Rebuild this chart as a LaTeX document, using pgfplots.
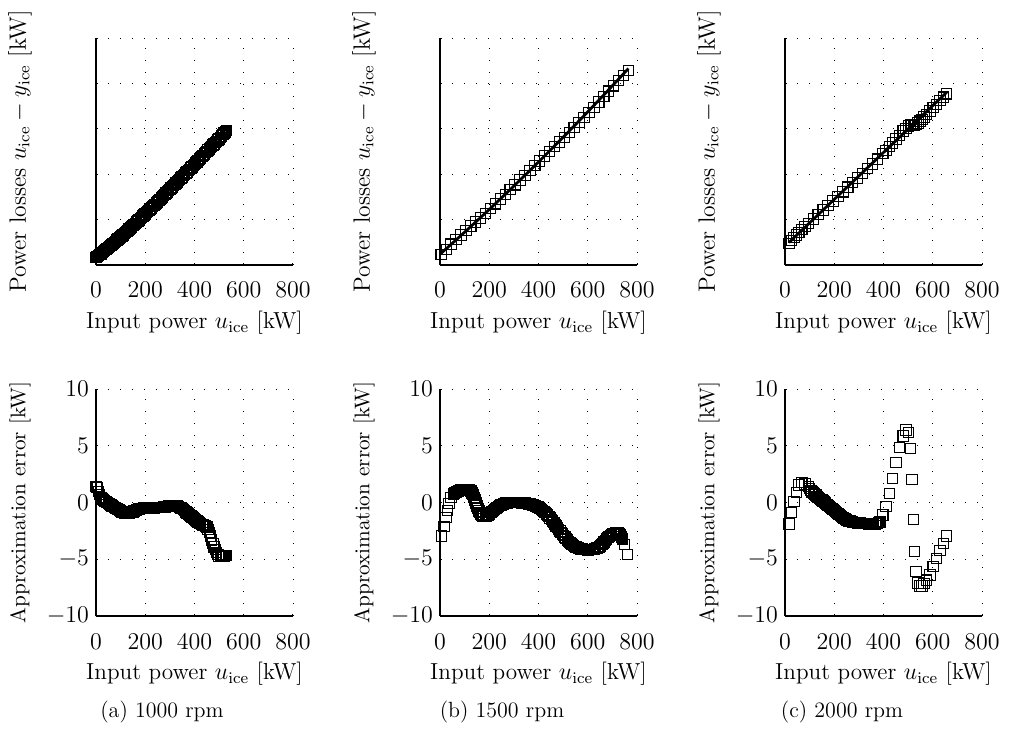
\documentclass[border=0pt]{standalone}
\usepackage{pgfplots}
\pgfplotsset{compat=1.18}

\pgfplotsset{
  panel/.style={
    scale only axis, width=98.5pt, height=113.5pt,
    axis x line*=bottom, axis y line*=left,
    tick align=inside, major tick length=1.2pt,
    xmin=0, xmax=800, xtick={0,200,400,600,800},
    grid=major,
    major grid style={black, line width=0.45pt, dash pattern=on 0.5pt off 5.5pt},
    axis line style={line width=0.6pt},
    tick style={black, line width=0.5pt},
    clip=false,
    ticklabel style={font=\fontsize{12.7}{14}\selectfont},
    xticklabel style={anchor=base, yshift=-16.5pt},
    xlabel={Input power $u_{\mathrm{ice}}$ [kW]},
    xlabel style={at={(axis description cs:0.5,-0.28)}, anchor=base,
                  font=\fontsize{11.6}{14}\selectfont},
    ylabel style={at={(axis description cs:-0.386,0.5)}, anchor=center},
  },
  toprow/.style={panel, ymin=0, ymax=500, ytick={0,100,200,300,400,500}, yticklabels={},
    ylabel={Power losses $u_{\mathrm{ice}}-y_{\mathrm{ice}}$ [kW]},
    ylabel style={font=\fontsize{11.8}{14}\selectfont}},
  botrow/.style={panel, ymin=-10, ymax=10, ytick={-10,-5,0,5,10},
    ylabel={Approximation error [kW]},
    ylabel style={font=\fontsize{10.6}{13}\selectfont}},
  sq/.style={only marks, mark=square, mark size=2.6pt, mark options={black, line width=0.55pt}},
  fit/.style={black, line width=1.4pt, smooth},
}

\begin{document}
\begin{tikzpicture}
\useasboundingbox (0,0) rectangle (506.5pt,364.5pt);

% ---- 1000 rpm ----
\begin{axis}[toprow, at={(48pt,232pt)}, anchor=south west]
\addplot[sq] coordinates {
(0,16.4)(10,20.6)(20,24.7)(30,29.2)(40,33.7)(50,38.3)(60,42.9)(70,47.6)(80,52.3)(90,57.1)
(100,61.8)(110,66.6)(120,71.5)(130,76.4)(140,81.5)(150,86.6)(160,91.8)(170,97.0)(180,102.2)(190,107.4)
(200,112.6)(210,117.8)(220,123.1)(230,128.4)(240,133.7)(250,139.1)(260,144.4)(270,149.9)(280,155.3)(290,160.8)
(300,166.4)(310,171.9)(320,177.4)(330,183.0)(340,188.5)(350,194.0)(360,199.5)(370,205.0)(380,210.6)(390,216.1)
(400,221.8)(410,227.4)(420,233.1)(430,238.8)(440,244.6)(450,250.4)(460,255.9)(470,261.3)(480,266.7)(490,272.2)
(500,278.0)(510,284.1)(520,290.3)(530,296.5)
(5,18.5)(15,22.7)(25,27.0)(35,31.5)(45,36.0)(55,40.6)(65,45.3)(75,50.0)(85,54.7)(95,59.5)
(105,64.2)(115,69.1)(125,74.0)(135,79.0)(145,84.1)(155,89.2)(165,94.4)(175,99.6)(185,104.8)(195,110.0)
(205,115.2)(215,120.5)(225,125.8)(235,131.1)(245,136.4)(255,141.8)(265,147.2)(275,152.6)(285,158.1)(295,163.6)
(305,169.2)(315,174.7)(325,180.2)(335,185.8)(345,191.3)(355,196.8)(365,202.3)(375,207.8)(385,213.4)(395,219.0)
(405,224.6)(415,230.3)(425,236.0)(435,241.7)(445,247.5)(455,253.2)(465,258.6)(475,264.0)(485,269.5)(495,275.1)
(505,281.1)(515,287.2)(525,293.4)};
\addplot[fit] coordinates {
(0,15)(50,38.4)(100,62.6)(150,87.5)(200,113.1)(250,139.5)(300,166.7)(350,194.6)(400,223.2)(450,252.6)(500,282.8)(530,301.2)};
\end{axis}

\begin{axis}[botrow, at={(48pt,56.5pt)}, anchor=south west]
\addplot[sq] coordinates {
(0,1.4)(5,1.3)(10,0.95)(20,0.45)(30,0.22)(40,0.07)(50,-0.07)(60,-0.22)(70,-0.37)(80,-0.48)(90,-0.6)
(100,-0.75)(110,-0.88)(120,-0.93)(130,-0.95)(140,-0.9)(150,-0.82)(160,-0.72)(170,-0.62)(180,-0.55)(190,-0.51)
(200,-0.5)(210,-0.5)(220,-0.5)(230,-0.48)(240,-0.46)(250,-0.45)(260,-0.43)(270,-0.42)(280,-0.38)(290,-0.34)
(300,-0.3)(310,-0.3)(320,-0.3)(330,-0.32)(340,-0.42)(350,-0.53)(360,-0.72)(370,-0.92)(380,-1.1)(390,-1.28)
(400,-1.45)(410,-1.62)(420,-1.8)(430,-1.93)(440,-2.03)(450,-2.15)(460,-2.65)(470,-3.3)(480,-3.9)(490,-4.42)
(500,-4.72)(510,-4.75)(520,-4.7)(530,-4.65)
(15,0.7)(25,0.33)(35,0.15)(45,0.0)(55,-0.15)(65,-0.3)(75,-0.43)(85,-0.54)(95,-0.68)
(105,-0.82)(115,-0.91)(125,-0.94)(135,-0.93)(145,-0.86)(155,-0.77)(165,-0.67)(175,-0.58)(185,-0.53)(195,-0.5)
(205,-0.5)(215,-0.5)(225,-0.49)(235,-0.47)(245,-0.45)(255,-0.44)(265,-0.42)(275,-0.4)(285,-0.36)(295,-0.32)
(305,-0.3)(315,-0.3)(325,-0.31)(335,-0.37)(345,-0.47)(355,-0.62)(365,-0.82)(375,-1.01)(385,-1.19)(395,-1.36)
(405,-1.53)(415,-1.71)(425,-1.86)(435,-1.98)(445,-2.09)(455,-2.4)(465,-2.97)(475,-3.6)(485,-4.16)(495,-4.57)
(505,-4.74)(515,-4.73)(525,-4.68)};
\end{axis}

% ---- 1500 rpm ----
\begin{axis}[toprow, at={(220pt,232pt)}, anchor=south west]
\addplot[sq] coordinates {
(5,23.1)(25,34.2)(45,45.8)(65,56.0)(85,66.0)(105,76.0)(125,85.7)(145,94.8)(165,103.7)(185,113.6)
(205,124.1)(225,134.7)(245,145.2)(265,155.7)(285,166.1)(305,176.6)(325,187.1)(345,197.6)(365,208.1)(385,218.7)
(405,229.3)(425,239.8)(445,250.2)(465,260.5)(485,270.7)(505,281.2)(525,291.8)(545,302.6)(565,313.6)(585,324.7)
(605,335.9)(625,347.4)(645,359.0)(665,370.9)(685,382.9)(705,394.8)(725,406.5)(745,417.7)(765,428.1)};
\addplot[fit] coordinates {
(5,26.1)(50,47.8)(100,72.3)(150,97.2)(200,122.4)(250,148.0)(300,174.0)(350,200.3)(400,226.9)(450,254.0)
(500,281.4)(550,309.2)(600,337.3)(650,365.8)(700,394.7)(765,432.7)};
\end{axis}

\begin{axis}[botrow, at={(220pt,56.5pt)}, anchor=south west]
\addplot[sq] coordinates {
(7,-2.95)(16,-2.13)(24,-1.34)(31,-0.72)(37,-0.07)(45,0.46)(54,0.75)(63,0.88)(72,0.97)(81,1.05)
(90,1.1)(99,1.14)(108,1.16)(117,1.13)(126,1.0)(134,0.7)(142,0.2)(150,-0.3)(158,-0.75)(166,-1.05)
(175,-1.2)(184,-1.22)(193,-1.15)(202,-1.0)(212,-0.8)(222,-0.6)(232,-0.42)(242,-0.28)(252,-0.17)(262,-0.09)
(272,-0.04)(282,-0.01)(292,0.0)(302,0.0)(312,0.0)(322,-0.01)(332,-0.03)(342,-0.05)(352,-0.08)(362,-0.12)
(372,-0.18)(382,-0.25)(392,-0.34)(402,-0.45)(412,-0.6)(422,-0.78)(432,-1.0)(442,-1.25)(452,-1.5)(462,-1.78)
(472,-2.07)(482,-2.37)(492,-2.65)(502,-2.92)(512,-3.18)(522,-3.42)(532,-3.63)(542,-3.8)(552,-3.93)(562,-4.03)
(572,-4.1)(582,-4.14)(592,-4.16)(602,-4.17)(612,-4.16)(622,-4.13)(632,-4.07)(642,-3.97)(652,-3.82)(662,-3.6)
(672,-3.35)(682,-3.1)(692,-2.9)(702,-2.75)(712,-2.68)(722,-2.7)(732,-2.85)(742,-3.2)(750,-3.7)(762,-4.6)
(58,0.82)(67,0.93)(76,1.01)(85,1.08)(94,1.12)(103,1.15)(112,1.15)(121,1.07)(130,0.85)(138,0.45)
(146,-0.05)(154,-0.53)(162,-0.9)(170,-1.13)(179,-1.21)(188,-1.19)(197,-1.08)(207,-0.9)(217,-0.7)(227,-0.51)
(237,-0.35)(247,-0.22)(257,-0.13)(267,-0.06)(277,-0.02)(287,0.0)(297,0.0)(307,0.0)(317,0.0)(327,-0.02)
(337,-0.04)(347,-0.06)(357,-0.1)(367,-0.15)(377,-0.21)(387,-0.3)(397,-0.4)(407,-0.52)(417,-0.69)(427,-0.89)
(437,-1.12)(447,-1.37)(457,-1.64)(467,-1.92)(477,-2.22)(487,-2.51)(497,-2.78)(507,-3.05)(517,-3.3)(527,-3.52)
(537,-3.71)(547,-3.86)(557,-3.98)(567,-4.06)(577,-4.12)(587,-4.15)(597,-4.16)(607,-4.16)(617,-4.14)(627,-4.1)
(637,-4.02)(647,-3.9)(657,-3.71)(667,-3.47)(677,-3.22)(687,-3.0)(697,-2.82)(707,-2.71)(717,-2.69)(727,-2.77)
(737,-3.02)};
\end{axis}

% ---- 2000 rpm ----
\begin{axis}[toprow, at={(392.5pt,232pt)}, anchor=south west]
\addplot[sq] coordinates {
(16,47.6)(27,54.2)(37,60.4)(47,66.3)(56,71.7)(68,78.1)(81,84.7)(95,91.6)(115,101.4)(135,111.4)
(155,121.4)(175,131.3)(195,141.3)(215,151.2)(235,161.2)(255,171.3)(275,181.5)(295,191.7)(315,202.0)(335,212.3)
(355,222.6)(375,233.0)(397,245.1)(410,252.6)(424,261.0)(437,269.0)(451,277.6)(464,285.7)(480,294.9)(491,301.1)
(501,306.1)(510,309.3)(516,309.7)(521,308.8)(525,308.0)(532,309.8)(540,313.0)(548,316.8)(556,321.0)(565,325.8)
(575,331.3)(589,339.0)(602,346.4)(615,353.9)(629,361.8)(643,369.7)(656,377.0)};
\addplot[fit] coordinates {(16,49.5)(656,380.0)};
\end{axis}

\begin{axis}[botrow, at={(392.5pt,56.5pt)}, anchor=south west]
\addplot[sq] coordinates {
(16,-1.9)(27,-0.9)(37,0.07)(47,0.87)(56,1.54)(68,1.75)(81,1.63)(95,1.39)(105,1.05)(115,0.82)
(125,0.65)(135,0.45)(145,0.28)(155,0.12)(165,-0.06)(175,-0.25)(185,-0.42)(195,-0.6)(205,-0.8)(215,-0.98)
(225,-1.16)(235,-1.32)(245,-1.47)(255,-1.57)(265,-1.65)(275,-1.71)(285,-1.76)(295,-1.79)(305,-1.82)(315,-1.84)
(325,-1.86)(335,-1.87)(345,-1.88)(355,-1.89)(365,-1.88)(375,-1.85)(385,-1.7)(397,-1.1)(410,-0.37)(424,0.81)
(437,2.13)(451,3.51)(464,4.86)(480,5.86)(491,6.39)(501,6.15)(510,4.74)(516,2.04)(521,-1.48)(525,-4.33)
(532,-6.09)(540,-7.1)(548,-7.35)(556,-7.35)(565,-7.15)(575,-6.85)(589,-6.39)(602,-5.65)(615,-4.92)(629,-4.25)
(643,-3.6)(656,-2.95)
(100,1.22)(110,0.94)(120,0.74)(130,0.55)(140,0.37)(150,0.2)(160,0.03)(170,-0.16)(180,-0.34)(190,-0.51)
(200,-0.7)(210,-0.89)(220,-1.07)(230,-1.24)(240,-1.4)(250,-1.52)(260,-1.61)(270,-1.68)(280,-1.74)(290,-1.78)
(300,-1.81)(310,-1.83)(320,-1.85)(330,-1.87)(340,-1.88)(350,-1.89)(360,-1.89)(370,-1.87)(380,-1.78)};
\end{axis}

% sub-captions
\node[anchor=base, font=\fontsize{11}{13}\selectfont] at (81pt,5.8pt) {(a) 1000 rpm};
\node[anchor=base, font=\fontsize{11}{13}\selectfont] at (251pt,5.8pt) {(b) 1500 rpm};
\node[anchor=base, font=\fontsize{11}{13}\selectfont] at (421pt,5.8pt) {(c) 2000 rpm};
\end{tikzpicture}
\end{document}
